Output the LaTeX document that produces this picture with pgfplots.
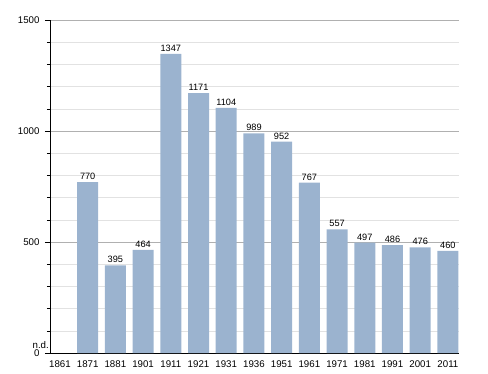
\documentclass[border=0pt]{standalone}
\usepackage{pgfplots}
\pgfplotsset{compat=1.18}
\usepackage{fontspec}
\setmainfont{Liberation Sans}
\definecolor{barc}{HTML}{9BB3CF}
\definecolor{majg}{HTML}{B0B0B0}
\definecolor{ming}{HTML}{E2E2E2}
\begin{document}
\begin{tikzpicture}[x=1pt,y=1pt]
\path[use as bounding box] (0,0) rectangle (488,373);
\begin{axis}[
  at={(50pt,20pt)}, anchor=south west,
  scale only axis, width=409pt, height=333pt,
  xmin=-0.36, xmax=14.4, ymin=0, ymax=1500,
  axis lines=left, axis line style={-, black, line width=0.8pt},
  xtick={0,...,14},
  xticklabels={1861,1871,1881,1901,1911,1921,1931,1936,1951,1961,1971,1981,1991,2001,2011},
  x tick style={draw=none},
  ytick={0,500,1000,1500},
  minor y tick num=4,
  ymajorgrids, yminorgrids,
  major grid style={majg, line width=0.6pt},
  minor grid style={ming, line width=0.6pt},
  y tick style={black, line width=0.6pt},
  tick align=outside,
  major tick length=5pt, minor tick length=3pt,
  tick label style={font=\fontsize{9.7}{11}\selectfont},
  /pgf/number format/assume math mode=true,
  /pgf/number format/1000 sep={},
  yticklabel style={xshift=-2pt},
  xticklabel style={yshift=1pt},
  ybar, bar width=21pt,
  nodes near coords,
  every node near coord/.append style={font=\fontsize{9.2}{11}\selectfont, yshift=-1pt},
  clip=false,
]
\addplot[fill=barc, draw=none] coordinates {
 (1,770) (2,395) (3,464) (4,1347) (5,1171) (6,1104) (7,989) (8,952)
 (9,767) (10,557) (11,497) (12,486) (13,476) (14,460)};
\node[anchor=base east, font=\fontsize{9.7}{11}\selectfont, inner sep=0pt] at (axis cs:-0.36,0) [xshift=-1pt, yshift=5pt] {n.d.};
\end{axis}
\end{tikzpicture}
\end{document}
